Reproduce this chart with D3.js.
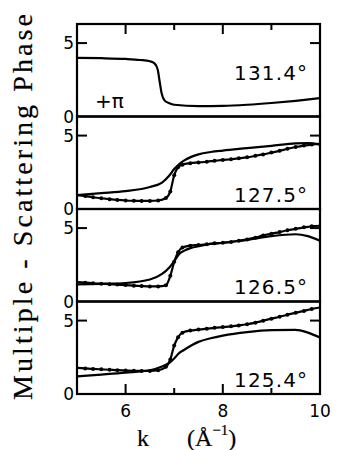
<!DOCTYPE html>
<html><head><meta charset="utf-8">
<script src="https://cdn.jsdelivr.net/npm/d3@7"></script>
<style>html,body{margin:0;padding:0;background:#fff;}svg{display:block;}</style>
</head><body>
<script>
// ---- data ----
const panelLabels = ["131.4°", "127.5°", "126.5°", "125.4°"];
const xTicks = [6, 8, 10];
const yTicks = [0, 5];

// smooth (theory) curves
const kLine1 = [5.0, 5.5, 6.0, 6.3, 6.5, 6.6, 6.66, 6.7, 6.74, 6.8, 6.9, 7.0, 7.5, 8.0, 8.5, 9.0, 9.5, 10.0];
const line131 = [3.99, 3.97, 3.92, 3.85, 3.76, 3.6, 3.2, 2.4, 1.6, 1.1, 0.9, 0.8, 0.7, 0.72, 0.8, 0.92, 1.07, 1.25];

const kLine = [5.0, 5.5, 6.0, 6.5, 6.75, 6.9, 7.0, 7.1, 7.2, 7.35, 7.5, 7.75, 8.0, 8.5, 9.0, 9.5, 9.75, 10.0];
const line127 = [0.95, 1.08, 1.22, 1.50, 1.80, 2.28, 2.72, 3.05, 3.30, 3.55, 3.72, 3.88, 3.98, 4.14, 4.30, 4.47, 4.48, 4.38];
const line126 = [1.16, 1.20, 1.26, 1.50, 1.88, 2.32, 2.75, 3.22, 3.45, 3.65, 3.76, 3.92, 4.00, 4.19, 4.45, 4.58, 4.45, 4.14];
const line125 = [1.20, 1.32, 1.45, 1.62, 1.88, 2.12, 2.42, 2.78, 3.00, 3.30, 3.55, 3.80, 3.98, 4.22, 4.35, 4.37, 4.18, 3.84];

// dotted (experimental) curves
const kDot = [5.0, 5.17, 5.33, 5.5, 5.67, 5.83, 6.0, 6.17, 6.33, 6.5, 6.67, 6.83, 6.92, 7.0, 7.08, 7.17, 7.33, 7.5, 7.67, 7.83, 8.0, 8.17, 8.33, 8.5, 8.67, 8.83, 9.0, 9.17, 9.33, 9.5, 9.67, 9.83, 10.0];
const dot127 = [0.95, 0.88, 0.80, 0.73, 0.67, 0.62, 0.58, 0.56, 0.55, 0.55, 0.58, 0.75, 1.2, 2.3, 2.85, 3.02, 3.12, 3.17, 3.22, 3.28, 3.34, 3.39, 3.45, 3.52, 3.62, 3.72, 3.84, 3.96, 4.10, 4.22, 4.32, 4.39, 4.43];
const dot126 = [1.33, 1.28, 1.24, 1.21, 1.18, 1.15, 1.12, 1.08, 1.05, 1.03, 1.03, 1.10, 1.75, 2.7, 3.35, 3.68, 3.80, 3.85, 3.90, 3.96, 4.00, 4.06, 4.14, 4.23, 4.35, 4.50, 4.62, 4.73, 4.85, 4.95, 5.05, 5.12, 5.16];
const dot125 = [1.78, 1.74, 1.71, 1.68, 1.65, 1.62, 1.60, 1.58, 1.57, 1.57, 1.62, 1.85, 2.35, 3.3, 3.86, 4.18, 4.32, 4.39, 4.45, 4.51, 4.56, 4.61, 4.67, 4.75, 4.86, 4.99, 5.13, 5.26, 5.40, 5.53, 5.66, 5.79, 5.89];

const panels = [
  {label: panelLabels[0], lines: [{k: kLine1, v: line131}], dots: null},
  {label: panelLabels[1], lines: [{k: kLine, v: line127}], dots: {k: kDot, v: dot127}},
  {label: panelLabels[2], lines: [{k: kLine, v: line126}], dots: {k: kDot, v: dot126}},
  {label: panelLabels[3], lines: [{k: kLine, v: line125}], dots: {k: kDot, v: dot125}}
];

// ---- layout ----
const W = 337, H = 450;
const left = 77, right = 320, top0 = 24, ph = 92.5;
const svg = d3.select("body").append("svg").attr("width", W).attr("height", H);

const x = d3.scaleLinear().domain([5, 10]).range([left, right]);
const sans = "'DejaVu Sans', sans-serif";
const serif = "'Liberation Serif', 'DejaVu Serif', serif";

panels.forEach((p, i) => {
  const t = top0 + i * ph, b = t + ph;
  const y = d3.scaleLinear().domain([0, 6.3]).range([b, t]);
  const g = svg.append("g");
  const line = d3.line().x((d) => x(d[0])).y((d) => y(d[1])).curve(d3.curveMonotoneX);

  p.lines.forEach(s => {
    g.append("path").datum(s.k.map((k, j) => [k, s.v[j]]))
      .attr("d", line).attr("fill", "none").attr("stroke", "#000").attr("stroke-width", 2.2);
  });
  if (p.dots) {
    const pts = p.dots.k.map((k, j) => [k, p.dots.v[j]]);
    g.append("path").datum(pts).attr("d", line).attr("fill", "none").attr("stroke", "#000").attr("stroke-width", 2.2);
    g.selectAll("circle").data(pts.slice(1, -1)).join("circle")
      .attr("cx", d => x(d[0])).attr("cy", d => y(d[1])).attr("r", 2).attr("fill", "#000");
  }

  // frame
  g.append("rect").attr("x", left).attr("y", t).attr("width", right - left).attr("height", ph)
    .attr("fill", "none").attr("stroke", "#000").attr("stroke-width", 2.2);

  // y ticks (inward, both sides) + labels
  yTicks.forEach(v => {
    if (v > 0) {
      g.append("line").attr("x1", left).attr("x2", left + 10).attr("y1", y(v)).attr("y2", y(v))
        .attr("stroke", "#000").attr("stroke-width", 2);
      g.append("line").attr("x1", right).attr("x2", right - 10).attr("y1", y(v)).attr("y2", y(v))
        .attr("stroke", "#000").attr("stroke-width", 2);
    }
    g.append("text").attr("x", 74).attr("y", y(v) + 6).attr("text-anchor", "end")
      .attr("font-family", sans).attr("font-size", 17).text(v);
  });

  // x ticks: top of first panel, bottom of last panel
  [6, 7, 8, 9].forEach(k => {
    const len = (k % 2 === 0) ? 10 : 6;
    if (i === 0) g.append("line").attr("x1", x(k)).attr("x2", x(k)).attr("y1", t).attr("y2", t + len)
      .attr("stroke", "#000").attr("stroke-width", 2);
    if (i === 3) g.append("line").attr("x1", x(k)).attr("x2", x(k)).attr("y1", b).attr("y2", b - len)
      .attr("stroke", "#000").attr("stroke-width", 2);
  });

  // panel label
  const ly = i === 0 ? 80 : b - 7.3;
  g.append("text").attr("x", 234).attr("y", ly).attr("font-family", sans).attr("font-size", 20)
    .attr("textLength", 73).attr("lengthAdjust", "spacing").text(p.label);
  if (i === 0) {
    g.append("text").attr("x", 95).attr("y", 108).attr("font-family", sans).attr("font-size", 20)
      .text("+π");
  }
});

// x tick labels
svg.selectAll("text.xt").data(xTicks).join("text").attr("class", "xt")
  .attr("x", d => x(d)).attr("y", 417).attr("text-anchor", "middle")
  .attr("font-family", sans).attr("font-size", 17).text(d => d);

// x axis title
svg.append("text").attr("x", 137).attr("y", 446).attr("font-family", serif).attr("font-size", 24)
  .attr("stroke", "#000").attr("stroke-width", 0.2).text("k");
const xt = svg.append("text").attr("x", 187).attr("y", 446).attr("font-family", serif).attr("font-size", 24)
  .attr("stroke", "#000").attr("stroke-width", 0.2);
xt.append("tspan").text("(Å");
xt.append("tspan").attr("dy", -11).attr("font-size", 15).text("−1");
xt.append("tspan").attr("dy", 11).text(")");

// y axis title
svg.append("text").attr("transform", "translate(32,207) rotate(-90)").attr("text-anchor", "middle")
  .attr("font-family", serif).attr("font-size", 28)
  .attr("stroke", "#000").attr("stroke-width", 0.2)
  .attr("textLength", 386).attr("lengthAdjust", "spacing")
  .text("Multiple - Scattering  Phase");
</script>
</body></html>
